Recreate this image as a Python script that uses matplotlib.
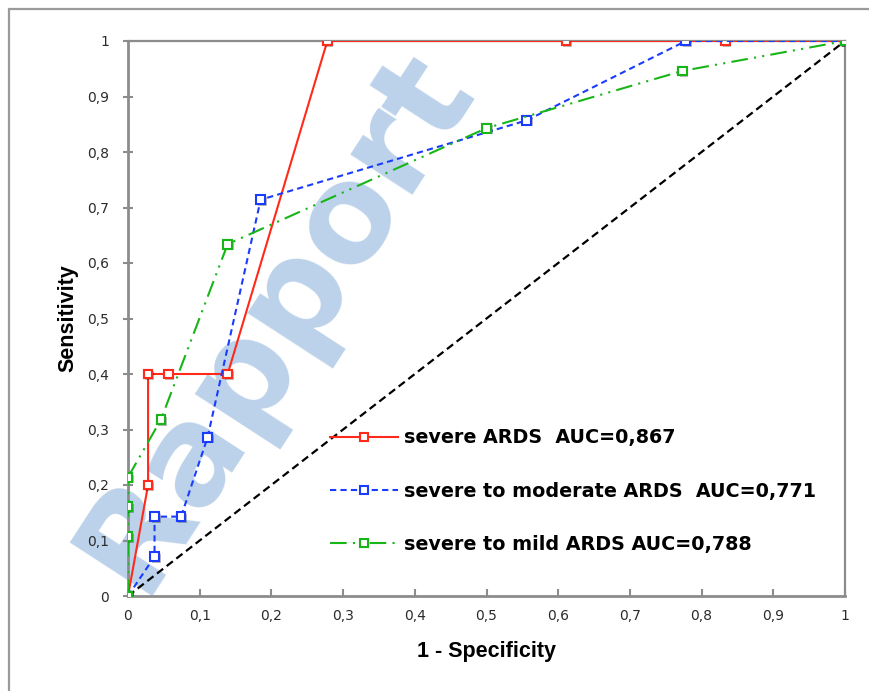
import matplotlib
matplotlib.use("Agg")
import matplotlib.pyplot as plt
import matplotlib.patheffects as pe
from matplotlib.patches import Rectangle
from matplotlib.ticker import FuncFormatter

# ---- data ----
severe_x = [0, 0.028, 0.028, 0.056, 0.139, 0.278, 0.611, 0.833, 1.0]
severe_y = [0, 0.2, 0.4, 0.4, 0.4, 1.0, 1.0, 1.0, 1.0]

moderate_x = [0, 0.037, 0.037, 0.074, 0.111, 0.185, 0.556, 0.778, 1.0]
moderate_y = [0, 0.071, 0.143, 0.143, 0.286, 0.714, 0.857, 1.0, 1.0]

mild_x = [0, 0, 0, 0, 0.046, 0.139, 0.5, 0.773, 1.0]
mild_y = [0, 0.107, 0.161, 0.214, 0.318, 0.634, 0.843, 0.946, 1.0]

diag = [0, 1]

labels = ["severe ARDS  AUC=0,867",
          "severe to moderate ARDS  AUC=0,771",
          "severe to mild ARDS AUC=0,788"]
ticks = [0, 0.1, 0.2, 0.3, 0.4, 0.5, 0.6, 0.7, 0.8, 0.9, 1.0]
xlabel = "1 - Specificity"
ylabel = "Sensitivity"
watermark = "Rapport"

W, H = 869, 691
fig = plt.figure(figsize=(W / 100, H / 100), dpi=100)
fig.patch.set_facecolor("white")

# outer chart border
fig.patches.append(Rectangle((9 / W, -0.2), 1.5, 1.2 - 9 / H, transform=fig.transFigure,
                             fill=False, edgecolor="#9a9a9a", linewidth=1.6, zorder=0))

# watermark
fig.text(140 / W, 1 - 596 / H, watermark, fontsize=97, fontweight="bold",
         family="DejaVu Sans", color="#bcd2ea", rotation=57, rotation_mode="anchor",
         ha="left", va="baseline", zorder=0.5)

ax = fig.add_axes([128 / W, 1 - 596 / H, (845 - 128) / W, (596 - 41) / H])
ax.set_zorder(1)
ax.patch.set_alpha(0)

ax.plot(diag, diag, color="black", lw=1.6, linestyle=(0, (3.5, 2)), zorder=2)

shadow = [pe.SimplePatchShadow(offset=(1.2, -1.2), shadow_rgbFace="black", alpha=0.25),
          pe.Normal()]
mk = dict(marker="s", markersize=6.3, markerfacecolor="white", markeredgewidth=1.5)
series = [(severe_x, severe_y, "#ff2a1a", "-"),
          (moderate_x, moderate_y, "#1a3cff", (0, (3, 2))),
          (mild_x, mild_y, "#17b517", (0, (8, 3, 1, 3, 1, 3)))]
for i, (xs, ys, col, ls) in enumerate(series):
    ax.plot(xs, ys, color=col, lw=1.5, linestyle=ls, label=labels[i], zorder=3 + i, **mk)
    ax.plot(xs, ys, linestyle="none", color=col, zorder=3 + i + 0.5,
            path_effects=shadow, **mk)

ax.set_xlim(0, 1)
ax.set_ylim(0, 1)
ax.set_xticks(ticks)
ax.set_yticks(ticks)
fmt = FuncFormatter(lambda v, p: ("%g" % round(v, 1)).replace(".", ","))
ax.xaxis.set_major_formatter(fmt)
ax.yaxis.set_major_formatter(fmt)

for side in ["left", "bottom", "top", "right"]:
    ax.spines[side].set_color("#8c8c8c")
    ax.spines[side].set_linewidth(2.0 if side in ("left", "bottom") else 1.6)

ax.tick_params(axis="y", direction="inout", length=7, width=1.5, color="#8c8c8c",
               pad=10, labelsize=10, labelcolor="#2b2b2b")
ax.tick_params(axis="x", direction="in", length=5, width=1.5, color="#8c8c8c",
               pad=9, labelsize=10, labelcolor="#2b2b2b")
for lab in ax.get_xticklabels() + ax.get_yticklabels():
    lab.set_family("DejaVu Sans")

ax.set_xlabel(xlabel, family=["Liberation Sans", "DejaVu Sans"], fontweight="bold",
              fontsize=15.5, labelpad=13)
ax.set_ylabel(ylabel, family=["Liberation Sans", "DejaVu Sans"], fontweight="bold",
              fontsize=15.5, labelpad=6)

leg = ax.legend(loc="center left", bbox_to_anchor=(330 / W, 1 - 491 / H),
                bbox_transform=fig.transFigure, frameon=False, borderpad=0,
                borderaxespad=0, handlelength=3.55, handletextpad=0.32,
                labelspacing=1.78, prop={"family": "DejaVu Sans", "weight": "bold",
                                         "size": 13.8})

fig.savefig("out.png", dpi=100)
